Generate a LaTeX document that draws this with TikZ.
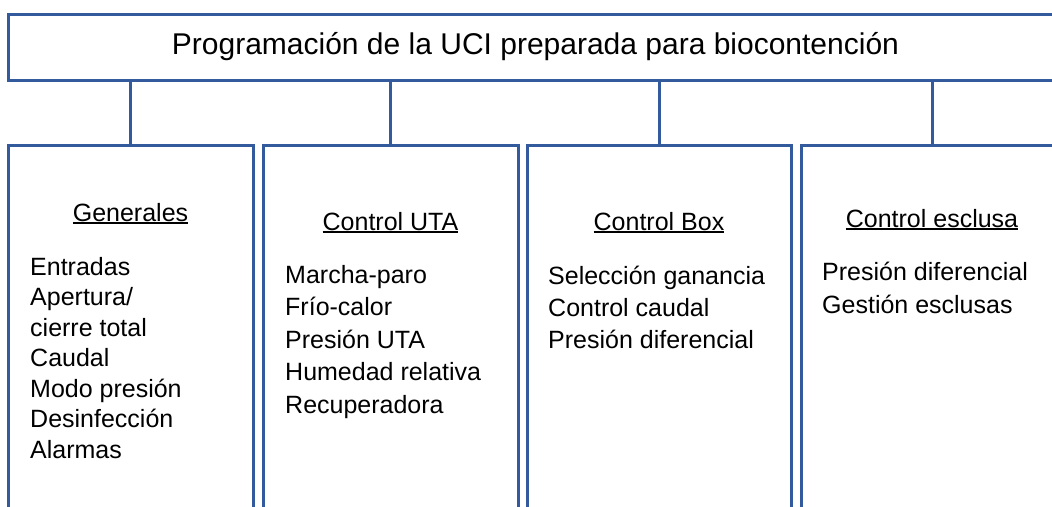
\documentclass[tikz,border=0pt]{standalone}
\usepackage{fontspec}
\setmainfont{Liberation Sans}
\newsavebox\cajasub
\newcommand\subrayado[1]{%
    \sbox\cajasub{#1}%
    \rlap{\rule[-3.2pt]{\wd\cajasub}{1.8pt}}\usebox\cajasub}
\usetikzlibrary{positioning}
\definecolor{azulmarco}{RGB}{52,90,158}
\tikzset{
    every picture/.style = {
        x = 1pt,
        y = -1pt
    },
    marco/.style = {
        draw = azulmarco,
        line width = 3pt,
        inner sep = 0pt,
        outer sep = 0pt
    },
    titulo/.style = {
        marco,
        minimum width = 1055pt,
        minimum height = 66pt,
        font = \fontsize{30}{36}\selectfont
    },
    columna/.style = {
        marco,
        anchor = north west,
        minimum width = #1,
        minimum height = 420pt
    },
    rama/.style = {
        draw = azulmarco,
        line width = 3pt
    },
    cabecera/.style = {
        anchor = base,
        inner sep = 0pt,
        font = \fontsize{25}{30}\selectfont
    },
    lista/.style = {
        anchor = north west,
        align = left,
        inner sep = 0pt,
        font = \fontsize{25}{#1}\selectfont
    }
}

\begin{document}
\begin{tikzpicture}
    \useasboundingbox (0,0) rectangle (1052,506);
    \clip (0,0) rectangle (1052,506);

    \node[titulo] (prog) at (535.5,47) {Programación de la UCI preparada para biocontención};

    \node[columna = 245pt] (gen)  at (8,145)   {};
    \node[columna = 255pt] (uta)  at (263,145) {};
    \node[columna = 264pt] (box)  at (527,145) {};
    \node[columna = 262pt] (escl) at (801,145) {};

    \foreach \c in {gen, uta, box, escl}
        \draw[rama] (\c.north) -- (prog.south -| \c.north);

    \node[cabecera] (hgen)  at (130.5,221) {\subrayado{Generales}};
    \node[cabecera] (huta)  at (390.5,230) {\subrayado{Control UTA}};
    \node[cabecera] (hbox)  at (659,230)   {\subrayado{Control Box}};
    \node[cabecera] (hescl) at (932,227)   {\subrayado{Control esclusa}};

    \node[lista = 30.5] (lgen) at (30,257) {Entradas\\ Apertura/\\ cierre total\\ Caudal\\ Modo presión\\ Desinfección\\ Alarmas};
    \node[lista = 32.5] (luta) at (285,265) {Marcha-paro\\ Frío-calor\\ Presión UTA\\ Humedad relativa\\ Recuperadora};
    \node[lista = 32] (lbox) at (548,266) {Selección ganancia\\ Control caudal\\ Presión diferencial};
    \node[lista = 33] (lescl) at (822,262) {Presión diferencial\\ Gestión esclusas};
\end{tikzpicture}
\end{document}
